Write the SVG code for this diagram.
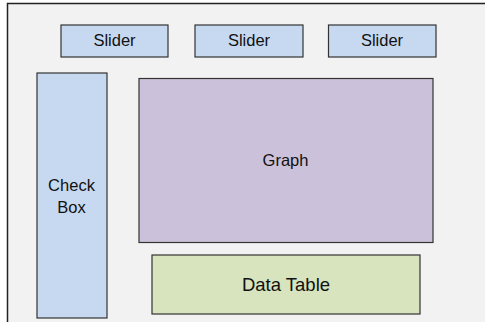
<svg xmlns="http://www.w3.org/2000/svg" width="485" height="322" viewBox="0 0 485 322">
<style>
.box{stroke:#333;stroke-width:1.2}
.blue{fill:#c6d9f1}
.lbl{font-family:"Liberation Sans",Arial,sans-serif;font-size:16.5px;fill:#111;text-anchor:middle}
</style>
<rect x="0" y="0" width="485" height="322" fill="#fff"/>
<g id="frame"><rect x="7.5" y="3.5" width="490" height="330" fill="#f2f2f2" stroke="#222" stroke-width="1.5"/></g>
<g id="slider1"><rect class="box blue" x="61" y="25" width="107" height="32"/><text class="lbl" x="114.5" y="46">Slider</text></g>
<g id="slider2"><rect class="box blue" x="195" y="25" width="108" height="32"/><text class="lbl" x="249" y="46">Slider</text></g>
<g id="slider3"><rect class="box blue" x="328.5" y="25" width="107.5" height="32"/><text class="lbl" x="382" y="46">Slider</text></g>
<g id="checkbox"><rect class="box blue" x="37" y="73" width="70" height="245"/><text class="lbl" x="71.5" y="191">Check</text><text class="lbl" x="71.5" y="213">Box</text></g>
<g id="graph"><rect class="box" fill="#ccc1da" x="139" y="78.5" width="294" height="164"/><text class="lbl" x="285.5" y="166">Graph</text></g>
<g id="datatable"><rect class="box" fill="#d7e4bd" x="152" y="255" width="268" height="59"/><text class="lbl" style="font-size:18.5px" x="286" y="291">Data Table</text></g>
<g id="connectors"/>
</svg>
